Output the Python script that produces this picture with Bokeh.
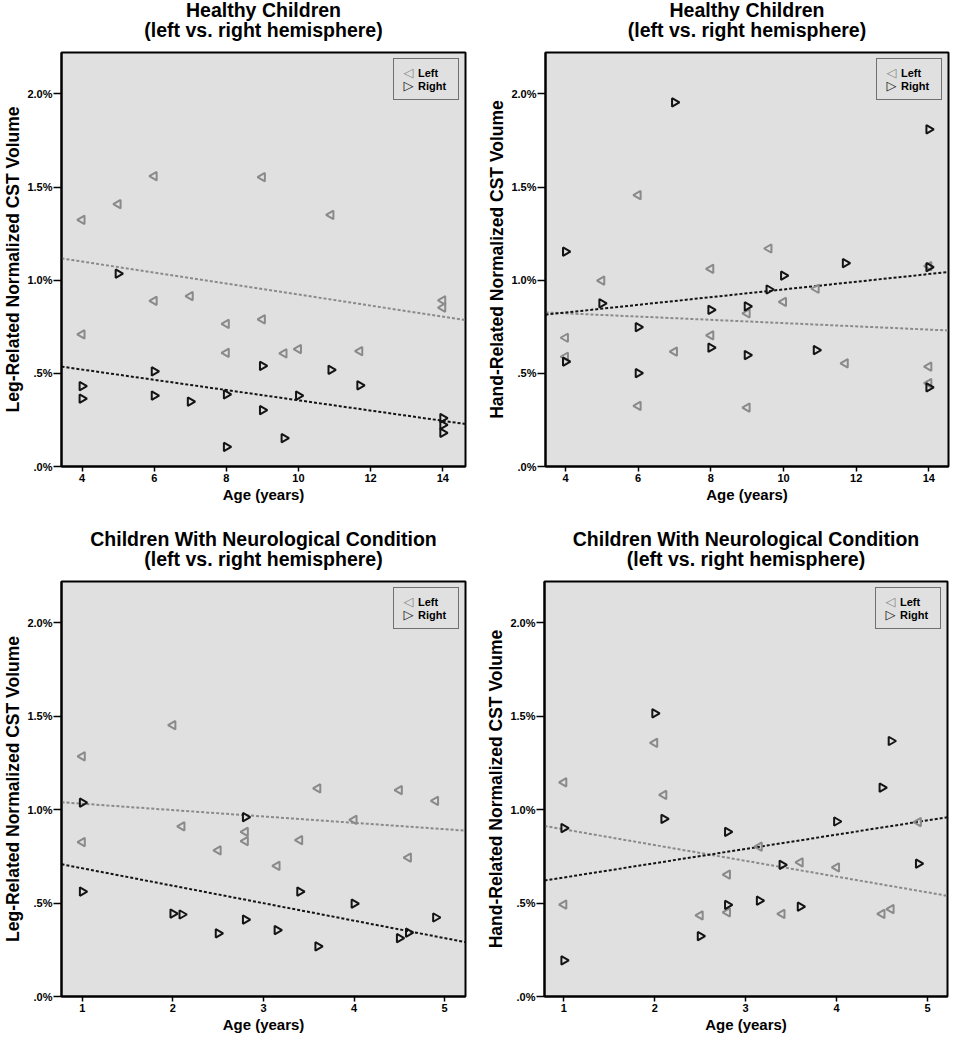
from bokeh.plotting import figure
from bokeh.layouts import column, row
from bokeh.models import (FixedTicker, CustomJSTickFormatter, Range1d,
                          Legend, LegendItem, Label, LinearAxis)
from bokeh.embed import file_html
from bokeh.resources import INLINE
import math

# ---------------- data ----------------
# Healthy children - leg-related
hc_leg_left_age = [4, 5, 6, 9, 10.9, 4, 6, 7, 8, 8, 9, 9.6, 10, 11.7, 14, 14]
hc_leg_left_vol = [1.324, 1.408, 1.558, 1.553, 1.350, 0.709, 0.889, 0.915, 0.765, 0.610, 0.790, 0.607, 0.630, 0.619, 0.892, 0.853]
hc_leg_right_age = [5, 4, 4, 6, 6, 7, 8, 8, 9, 9, 9.6, 10, 10.9, 11.7, 14, 14, 14]
hc_leg_right_vol = [1.035, 0.431, 0.364, 0.510, 0.381, 0.348, 0.387, 0.105, 0.540, 0.302, 0.152, 0.381, 0.519, 0.436, 0.260, 0.223, 0.181]
hc_leg_fit_left = [1.117, 0.786]
hc_leg_fit_right = [0.536, 0.228]

# Healthy children - hand-related
hc_hand_left_age = [6, 9.6, 8, 5, 10.9, 10, 9, 4, 8, 4, 7, 11.7, 14, 14, 6, 9, 14]
hc_hand_left_vol = [1.456, 1.170, 1.061, 0.998, 0.954, 0.883, 0.822, 0.691, 0.704, 0.589, 0.617, 0.554, 0.536, 0.448, 0.325, 0.316, 1.075]
hc_hand_right_age = [7, 14, 4, 11.7, 14, 10, 9.6, 5, 8, 9, 6, 8, 9, 10.9, 4, 6, 14]
hc_hand_right_vol = [1.954, 1.810, 1.153, 1.091, 1.070, 1.024, 0.950, 0.876, 0.841, 0.859, 0.748, 0.638, 0.598, 0.625, 0.563, 0.501, 0.425]
hc_hand_fit_left = [0.827, 0.730]
hc_hand_fit_right = [0.815, 1.044]

# Children with neurological condition - leg-related
nc_leg_left_age = [1, 2, 3.6, 4.5, 4.9, 4, 2.1, 2.8, 2.8, 1, 3.4, 2.5, 4.6, 3.15]
nc_leg_left_vol = [1.286, 1.453, 1.114, 1.105, 1.047, 0.946, 0.911, 0.881, 0.832, 0.827, 0.837, 0.782, 0.744, 0.700]
nc_leg_right_age = [1, 2.8, 1, 3.4, 4, 2, 2.1, 4.9, 2.8, 3.15, 2.5, 4.6, 4.5, 3.6]
nc_leg_right_vol = [1.038, 0.960, 0.562, 0.562, 0.497, 0.444, 0.439, 0.423, 0.412, 0.356, 0.338, 0.342, 0.312, 0.268]
nc_leg_fit_left = [1.040, 0.888]
nc_leg_fit_right = [0.708, 0.291]

# Children with neurological condition - hand-related
nc_hand_left_age = [2, 1, 2.1, 3.15, 4.9, 3.6, 4, 2.8, 1, 2.8, 2.5, 3.4, 4.5, 4.6]
nc_hand_left_vol = [1.358, 1.147, 1.079, 0.802, 0.934, 0.718, 0.691, 0.653, 0.492, 0.451, 0.434, 0.442, 0.442, 0.468]
nc_hand_right_age = [2, 4.6, 4.5, 2.1, 1, 4, 2.8, 3.4, 4.9, 2.8, 3.15, 3.6, 2.5, 1]
nc_hand_right_vol = [1.516, 1.368, 1.118, 0.951, 0.902, 0.937, 0.881, 0.705, 0.711, 0.490, 0.513, 0.481, 0.323, 0.193]
nc_hand_fit_left = [0.913, 0.539]
nc_hand_fit_right = [0.621, 0.960]

healthy_x_ticks = [4, 6, 8, 10, 12, 14]
neuro_x_ticks = [1, 2, 3, 4, 5]
y_ticks = [0, 0.5, 1.0, 1.5, 2.0]
y_range = (0, 2.222)

title_healthy = "Healthy Children"
title_neuro = "Children With Neurological Condition"
title_sub = "(left vs. right hemisphere)"
ylabel_leg = "Leg-Related Normalized CST Volume"
ylabel_hand = "Hand-Related Normalized CST Volume"
xlabel = "Age (years)"
legend_labels = ["Left", "Right"]
legend_symbols = ["\u25C1", "\u25B7"]

# ---------------- styling ----------------
FONT = "Liberation Sans"
GRAY = "#8a8a8a"
BLACK = "#141414"
BG = "#e0e0e0"

LG_MARGIN = 6
LG_PAD = 7
LG_GLYPH_W = 16
LG_GLYPH_H = 13
LG_STANDOFF = 1
LG_LABEL_W = 33
LG_SYM_OFF = 6


def make_panel(t1, ylab, xr, xticks, la, lv, ra, rv, fl, fr,
               fw, fh, bl, br, bt, bb):
    p = figure(frame_width=fw, frame_height=fh, output_backend="svg",
               toolbar_location=None,
               x_range=Range1d(*xr), y_range=Range1d(*y_range),
               min_border_left=bl, min_border_right=br,
               min_border_top=bt, min_border_bottom=bb)
    p.background_fill_color = BG
    p.border_fill_color = "white"
    p.outline_line_color = "black"
    p.outline_line_width = 2
    p.grid.visible = False

    bx = p.below[0]
    ly = p.left[0]

    # second title line as the label of a bare axis above the frame
    sub = LinearAxis(ticker=FixedTicker(ticks=[]), axis_label=title_sub,
                     axis_line_color=None, major_tick_out=0, major_tick_in=0,
                     minor_tick_out=0, minor_tick_in=0,
                     major_label_standoff=0,
                     axis_label_standoff=12,
                     axis_label_text_font=FONT, axis_label_text_font_size="19.5px",
                     axis_label_text_font_style="bold", axis_label_text_color="black")
    p.add_layout(sub, "above")

    # first title line
    p.title.text = t1
    p.title.align = "center"
    p.title.text_font = FONT
    p.title.text_font_size = "19.5px"
    p.title.text_font_style = "bold"
    p.title.text_color = "black"
    p.title.standoff = -10

    # axes
    bx.ticker = FixedTicker(ticks=xticks)
    ly.ticker = FixedTicker(ticks=y_ticks)
    ly.formatter = CustomJSTickFormatter(code="""
        if (tick < 1) { return '.' + Math.round(tick*10) + '%'; }
        return tick.toFixed(1) + '%';
    """)
    for ax in (bx, ly):
        ax.axis_line_color = "black"
        ax.axis_line_width = 2
        ax.major_tick_line_color = "black"
        ax.major_tick_line_width = 1.5
        ax.minor_tick_line_color = None
        ax.major_tick_in = 0
        ax.major_label_text_font = FONT
        ax.major_label_text_font_size = "11px"
        ax.major_label_text_font_style = "bold"
        ax.major_label_text_color = "black"
        ax.axis_label_text_font = FONT
        ax.axis_label_text_font_style = "bold"
        ax.axis_label_text_color = "black"
    bx.major_tick_out = 5
    bx.major_label_standoff = 2
    bx.axis_label = xlabel
    bx.axis_label_text_font_size = "15px"
    bx.axis_label_standoff = 1
    ly.major_tick_out = 8
    ly.major_label_standoff = 1
    ly.axis_label = ylab
    ly.axis_label_text_font_size = "17.5px"
    ly.axis_label_standoff = 1

    # fit lines (values read at the frame edges)
    p.line(x=[xr[0], xr[1]], y=fl, line_color=GRAY, line_width=2, line_dash="3 2")
    p.line(x=[xr[0], xr[1]], y=fr, line_color=BLACK, line_width=2, line_dash="3 2")

    # points
    p.scatter(x=la, y=lv, marker="triangle", size=8.5, angle=math.pi / 2,
              fill_color=None, line_color=GRAY, line_width=2)
    p.scatter(x=ra, y=rv, marker="triangle", size=8.5, angle=-math.pi / 2,
              fill_color=None, line_color=BLACK, line_width=2)

    # legend box with labels; symbols added as text on top
    dummy = p.scatter(x=[], y=[], marker="triangle", size=0,
                      line_alpha=0, fill_alpha=0)
    lg = Legend(items=[LegendItem(label=legend_labels[0], renderers=[dummy]),
                       LegendItem(label=legend_labels[1], renderers=[dummy])],
                location="top_right", margin=LG_MARGIN, padding=LG_PAD,
                spacing=0, glyph_width=LG_GLYPH_W, glyph_height=LG_GLYPH_H,
                label_height=LG_GLYPH_H, label_width=LG_LABEL_W,
                label_standoff=LG_STANDOFF,
                label_text_font=FONT, label_text_font_size="11px",
                label_text_font_style="bold", label_text_color="black",
                background_fill_color=BG, background_fill_alpha=0,
                border_line_color="black", border_line_width=1.5)
    p.add_layout(lg, "center")

    box_w = 2 * LG_PAD + LG_GLYPH_W + LG_STANDOFF + LG_LABEL_W
    sym_px = fw - LG_MARGIN - box_w + LG_PAD + LG_SYM_OFF
    sym_x = xr[0] + sym_px / fw * (xr[1] - xr[0])
    for i, (sym, col) in enumerate(zip(legend_symbols, [GRAY, BLACK])):
        sym_py = fh - LG_MARGIN - LG_PAD - LG_GLYPH_H / 2 - i * LG_GLYPH_H
        sym_y = y_range[0] + sym_py / fh * (y_range[1] - y_range[0])
        p.add_layout(Label(x=sym_x, y=sym_y, text=sym, level="overlay",
                           text_align="center", text_baseline="middle",
                           text_font="DejaVu Sans", text_font_style="bold",
                           text_font_size="13px", text_color=col))
    return p


p1 = make_panel(title_healthy, ylabel_leg, (3.43, 14.63), healthy_x_ticks,
                hc_leg_left_age, hc_leg_left_vol, hc_leg_right_age, hc_leg_right_vol,
                hc_leg_fit_left, hc_leg_fit_right, 404, 414, 55, 13, 52, 46)
p2 = make_panel(title_healthy, ylabel_hand, (3.45, 14.54), healthy_x_ticks,
                hc_hand_left_age, hc_hand_left_vol, hc_hand_right_age, hc_hand_right_vol,
                hc_hand_fit_left, hc_hand_fit_right, 403, 414, 67, 2, 52, 46)
p3 = make_panel(title_neuro, ylabel_leg, (0.77, 5.23), neuro_x_ticks,
                nc_leg_left_age, nc_leg_left_vol, nc_leg_right_age, nc_leg_right_vol,
                nc_leg_fit_left, nc_leg_fit_right, 404, 415, 55, 13, 69, 38)
p4 = make_panel(title_neuro, ylabel_hand, (0.787, 5.22), neuro_x_ticks,
                nc_hand_left_age, nc_hand_left_vol, nc_hand_right_age, nc_hand_right_vol,
                nc_hand_fit_left, nc_hand_fit_right, 403, 415, 66, 3, 69, 38)

layout = column(row(p1, p2), row(p3, p4))
open("out.html", "w").write(file_html(layout, INLINE))
